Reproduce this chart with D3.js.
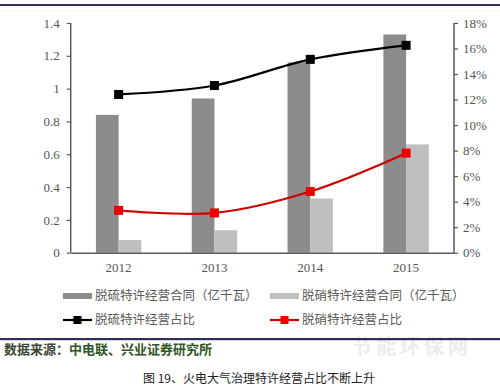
<!DOCTYPE html>
<html><head><meta charset="utf-8">
<script src="https://cdn.jsdelivr.net/npm/d3@7"></script>
<style>body{margin:0;background:#fff}svg{display:block}</style>
</head><body>
<script>
const years = ["2012","2013","2014","2015"];
const desulfContract = [0.84, 0.94, 1.16, 1.33];
const denitrContract = [0.077, 0.137, 0.33, 0.66];
const desulfShare = [12.4, 13.1, 15.15, 16.25];
const denitrShare = [3.32, 3.12, 4.8, 7.8];
const leftTicks = [0, 0.2, 0.4, 0.6, 0.8, 1, 1.2, 1.4];
const rightTicks = [0, 2, 4, 6, 8, 10, 12, 14, 16, 18];
const legendNames = ["脱硫特许经营合同（亿千瓦）","脱硝特许经营合同（亿千瓦）","脱硫特许经营占比","脱硝特许经营占比"];
const sourceText = ["数据来源：","中电联、兴业证券研究所"];
const caption = "图 19、火电大气治理特许经营占比不断上升";

const W=500,H=390;
const svg=d3.select("body").append("svg").attr("width",W).attr("height",H);
const serif="'Liberation Serif','DejaVu Serif',serif";
const cjkSerif="'Noto Sans CJK SC',sans-serif";

// top rule
svg.append("rect").attr("x",0).attr("y",4).attr("width",W).attr("height",2).attr("fill","#2f2f55");
svg.append("rect").attr("x",0).attr("y",10).attr("width",W).attr("height",1).attr("fill","#fbf8e6");

const x0=70.7,x1=454,yTop=23,yBot=252.7;
const x=d3.scaleBand().domain(years).range([x0,x1]);
const yL=d3.scaleLinear().domain([0,1.4]).range([yBot,yTop]);
const yR=d3.scaleLinear().domain([0,18]).range([yBot,yTop]);
const bw=22.7;
const axisCol="#595959";

// bars
svg.append("g").selectAll("rect").data(years).join("rect")
 .attr("x",d=>x(d)+x.bandwidth()/2-bw).attr("width",bw)
 .attr("y",(d,i)=>yL(desulfContract[i])).attr("height",(d,i)=>yBot-yL(desulfContract[i]))
 .attr("fill","#8c8c8c");
svg.append("g").selectAll("rect").data(years).join("rect")
 .attr("x",d=>x(d)+x.bandwidth()/2).attr("width",bw)
 .attr("y",(d,i)=>yL(denitrContract[i])).attr("height",(d,i)=>yBot-yL(denitrContract[i]))
 .attr("fill","#bfbfbf");

// axes
const gl=svg.append("g").attr("transform",`translate(${x0},0)`)
 .call(d3.axisLeft(yL).tickValues(leftTicks).tickSize(4).tickPadding(7).tickFormat(d=>d3.format("")(+d.toFixed(1))));
const gr=svg.append("g").attr("transform",`translate(${x1},0)`)
 .call(d3.axisRight(yR).tickValues(rightTicks).tickSize(4).tickPadding(5).tickFormat(d=>d+"%"));
const gb=svg.append("g").attr("transform",`translate(0,${yBot})`)
 .call(d3.axisBottom(x).tickSize(0).tickPadding(10));
[gl,gr,gb].forEach(g=>{
 g.select(".domain").attr("stroke",axisCol).attr("stroke-width",1.5);
 g.selectAll(".tick line").attr("stroke",axisCol).attr("stroke-width",1.2);
 g.selectAll("text").attr("fill","#555").attr("font-family",serif).attr("font-size",13);
});
gl.select(".domain").attr("d",`M-0,${yTop}V${yBot}`);
gr.select(".domain").attr("d",`M0,${yTop}V${yBot}`);

// lines
function series(vals,col,lineCol){
 const pts=years.map((d,i)=>[x(d)+x.bandwidth()/2,yR(vals[i])]);
 svg.append("path").attr("d",d3.line().curve(d3.curveCatmullRom.alpha(0.5))(pts))
  .attr("fill","none").attr("stroke",lineCol).attr("stroke-width",2.2);
 svg.append("g").selectAll("rect").data(pts).join("rect")
  .attr("x",p=>p[0]-4.5).attr("y",p=>p[1]-4.5).attr("width",9).attr("height",9).attr("fill",col);
}
series(desulfShare,"#000","#000");
series(denitrShare,"#ee0000","#d00000");

// watermark
svg.append("text").attr("x",412).attr("y",354).attr("text-anchor","middle")
 .attr("font-family",cjkSerif).attr("font-weight","bold").attr("font-size",20)
 .attr("fill","#ececec").attr("letter-spacing",4).text("节能环保网");

// legend
const lg=svg.append("g").attr("font-family",cjkSerif).attr("font-size",12.5).attr("fill","#5a5a5a");
const leg=[{x:63,y:296,t:"bar",c:"#8c8c8c"},{x:270,y:296,t:"bar",c:"#bfbfbf"},{x:63,y:320,t:"line",c:"#000"},{x:270,y:320,t:"line",c:"#ee0000"}];
leg.forEach((l,i)=>{
 if(l.t==="bar") lg.append("rect").attr("x",l.x).attr("y",l.y-3).attr("width",29).attr("height",6).attr("fill",l.c);
 else {
  lg.append("line").attr("x1",l.x).attr("x2",l.x+29).attr("y1",l.y).attr("y2",l.y).attr("stroke",i===3?"#d00000":l.c).attr("stroke-width",2.2);
  lg.append("rect").attr("x",l.x+10.5).attr("y",l.y-4).attr("width",8).attr("height",8).attr("fill",l.c);
 }
 lg.append("text").attr("x",l.x+32).attr("y",l.y).attr("dy","0.35em").text(legendNames[i]);
});

// bottom rule + source
svg.append("rect").attr("x",0).attr("y",338).attr("width",W).attr("height",2.2).attr("fill","#2f2f55");
const st=svg.append("text").attr("x",4).attr("y",349).attr("dy","0.35em")
 .attr("font-family",cjkSerif).attr("font-weight","bold").attr("font-size",13);
st.append("tspan").attr("fill","#3d4633").text(sourceText[0]);
st.append("tspan").attr("fill","#2f5522").text(sourceText[1]);

svg.append("text").attr("x",259).attr("y",379).attr("dy","0.35em").attr("text-anchor","middle")
 .attr("font-family","'Noto Sans CJK SC',sans-serif").attr("font-size",12).attr("fill","#222").text(caption);
</script>
</body></html>
